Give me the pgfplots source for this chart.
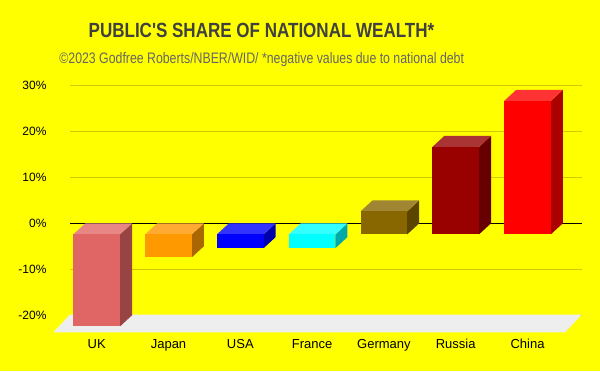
\documentclass[border=0pt]{standalone}
\usepackage{pgfplots}
\pgfplotsset{compat=1.18}
\usepackage{fontspec}
\setmainfont{Liberation Sans}[Ligatures=TeXOff]
\usetikzlibrary{backgrounds}
\definecolor{bgyellow}{HTML}{FFFF00}
\definecolor{gridyellow}{HTML}{CCCC00}
\definecolor{titlegray}{HTML}{404040}
\definecolor{subgray}{HTML}{666666}
\definecolor{floorgray}{HTML}{EEEEEE}
% bar colours: front / top / side
\definecolor{ukF}{HTML}{E06666}\definecolor{ukT}{HTML}{E88585}\definecolor{ukS}{HTML}{984444}
\definecolor{jpF}{HTML}{FF9900}\definecolor{jpT}{HTML}{FFAA33}\definecolor{jpS}{HTML}{AA6600}
\definecolor{usF}{HTML}{0000FF}\definecolor{usT}{HTML}{3333FF}\definecolor{usS}{HTML}{0000AA}
\definecolor{frF}{HTML}{00FFFF}\definecolor{frT}{HTML}{33FFFF}\definecolor{frS}{HTML}{00AAAA}
\definecolor{deF}{HTML}{886600}\definecolor{deT}{HTML}{A08533}\definecolor{deS}{HTML}{5A4400}
\definecolor{ruF}{HTML}{990000}\definecolor{ruT}{HTML}{AA3333}\definecolor{ruS}{HTML}{660000}
\definecolor{cnF}{HTML}{FF0000}\definecolor{cnT}{HTML}{FF3333}\definecolor{cnS}{HTML}{AA0000}
% #1 = category index, #2 = value (%), #3 front, #4 top, #5 side
\newcommand{\threedbar}[5]{%
  \pgfmathsetmacro\FL{#1-0.492}%
  \pgfmathsetmacro\FR{#1+0.158}%
  \pgfmathsetmacro\BL{#1-0.325}%
  \pgfmathsetmacro\BR{#1+0.325}%
  \pgfmathsetmacro\T{max(0,#2)}%
  \pgfmathsetmacro\B{min(0,#2)}%
  \pgfmathsetmacro\Tf{\T-2.4}%
  \pgfmathsetmacro\Bf{\B-2.4}%
  \edef\doit{%
    \noexpand\addplot[fill=#5,draw=none] coordinates {(\FR,\Bf) (\BR,\B) (\BR,\T) (\FR,\Tf)};
    \noexpand\addplot[fill=#4,draw=none] coordinates {(\FL,\Tf) (\FR,\Tf) (\BR,\T) (\BL,\T)};
    \noexpand\addplot[fill=#3,draw=none] coordinates {(\FL,\Bf) (\FR,\Bf) (\FR,\Tf) (\FL,\Tf)};
  }\doit
}
\begin{document}
\begin{tikzpicture}
\begin{axis}[
  x=71.8pt, y=4.6pt,
  xmin=-0.539, xmax=6.588, ymin=-20, ymax=30,
  axis line style={draw=none},
  major tick length=0pt,
  ytick={-20,-10,10,20,30},
  yticklabels={-20\%,-10\%,10\%,20\%,30\%},
  extra y ticks={0}, extra y tick labels={0\%},
  extra y tick style={grid style={black, line width=1pt}},
  ymajorgrids, grid style={color=gridyellow, line width=1pt},
  yticklabel style={font=\fontsize{12}{14}\selectfont, anchor=east, inner sep=0pt, xshift=-23.3pt},
  xtick={-0.167,0.833,1.833,2.833,3.833,4.833,5.833},
  xticklabels={UK,Japan,USA,France,Germany,Russia,China},
  xticklabel style={font=\fontsize{13}{15}\selectfont, anchor=base, inner sep=0pt, yshift=-33.4pt},
  clip=false,
]
% floor
\addplot[fill=floorgray, draw=none] coordinates {(-0.539,-19.85) (6.588,-19.85) (6.356,-23.7) (-0.772,-23.7)};
\threedbar{0}{-20}{ukF}{ukT}{ukS}
\threedbar{1}{-5}{jpF}{jpT}{jpS}
\threedbar{2}{-3}{usF}{usT}{usS}
\threedbar{3}{-3}{frF}{frT}{frS}
\threedbar{4}{5}{deF}{deT}{deS}
\threedbar{5}{19}{ruF}{ruT}{ruS}
\threedbar{6}{29}{cnF}{cnT}{cnS}
\node[anchor=base, inner sep=0pt, text=titlegray] at (axis cs:2.128,40.35)
  {\scalebox{0.83}[1]{\fontsize{20.5}{24}\selectfont\bfseries PUBLIC'S SHARE OF NATIONAL WEALTH*}};
\node[anchor=base, inner sep=0pt, text=subgray] at (axis cs:2.131,34.78)
  {\scalebox{0.81}[1]{\fontsize{15.2}{18}\selectfont ©2023 Godfree Roberts/NBER/WID/ *negative values due to national debt}};
\coordinate (bgSW) at (axis cs:-1.5139,-32.109);
\coordinate (bgNE) at (axis cs:6.8426,48.543);
\end{axis}
\begin{scope}[on background layer]
\fill[bgyellow] (bgSW) rectangle (bgNE);
\end{scope}
\pgfresetboundingbox
\path[use as bounding box] (bgSW) rectangle (bgNE);
\end{tikzpicture}
\end{document}
